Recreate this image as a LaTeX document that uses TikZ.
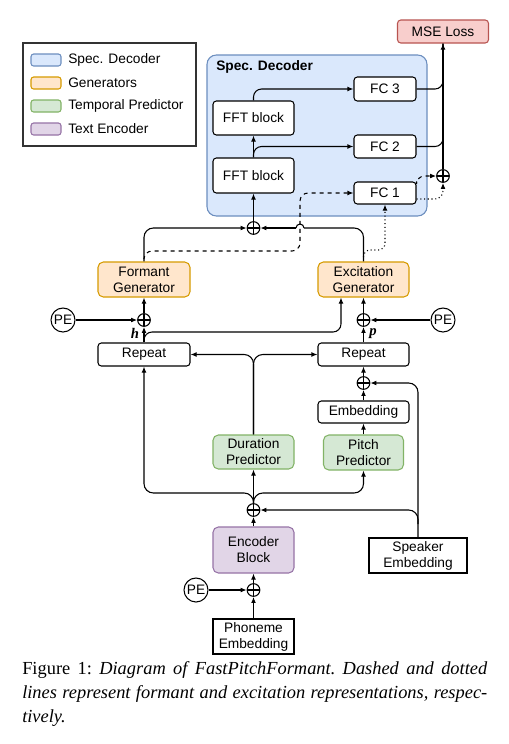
\documentclass[tikz,border=0pt]{standalone}
\usepackage{fontspec}
\setmainfont{Liberation Serif}
\setsansfont{Liberation Sans}
\usetikzlibrary{arrows.meta,calc}
\definecolor{decf}{HTML}{DAE8FC}\definecolor{decd}{HTML}{6C8EBF}
\definecolor{genf}{HTML}{FFE6CC}\definecolor{gend}{HTML}{D79B00}
\definecolor{temf}{HTML}{D5E8D4}\definecolor{temd}{HTML}{82B366}
\definecolor{encf}{HTML}{E1D5E7}\definecolor{encd}{HTML}{9673A6}
\definecolor{msef}{HTML}{F8CECC}\definecolor{msed}{HTML}{B85450}
\newcommand{\dfont}{\sffamily\fontsize{10.3}{12}\selectfont}
\tikzset{
  sz/.style n args={2}{minimum width=#1*0.75pt, minimum height=#2*0.75pt},
  box/.style={draw=black, fill=white, rounded corners=2.5pt, line width=0.8pt, inner sep=0pt, align=center, font=\dfont},
  sqbox/.style={box, rounded corners=0pt},
  gen/.style={box, fill=genf, draw=gend, rounded corners=4pt},
  tem/.style={box, fill=temf, draw=temd, rounded corners=4pt},
  enc/.style={box, fill=encf, draw=encd, rounded corners=4pt},
  deccont/.style={draw=decd, fill=decf, rounded corners=7pt, line width=0.8pt, inner sep=0pt},
  swatch/.style={rounded corners=2pt, line width=0.8pt, inner sep=0pt, sz={30}{12}},
  sumnode/.style={circle, draw=black, line width=0.8pt, fill=white, minimum size=9.5pt, inner sep=0pt,
    path picture={\draw[line width=0.8pt] (path picture bounding box.north) -- (path picture bounding box.south)
      (path picture bounding box.west) -- (path picture bounding box.east);}},
  pe/.style={circle, draw=black, line width=0.8pt, fill=white, minimum size=18pt, inner sep=0pt, font=\dfont},
  conn/.style={line width=0.8pt},
  arr/.style={conn, -{Latex[length=4.5pt,width=3.6pt]}},
  lbl/.style={inner sep=0pt, font=\fontsize{11}{12}\selectfont\bfseries\itshape},
  legtext/.style={anchor=west, inner sep=0pt, font=\dfont},
}
\begin{document}
\begin{tikzpicture}[x=0.75pt,y=-0.75pt]
\fill[white] (0,0) rectangle (508,744);
\useasboundingbox (0,0) rectangle (508,744);

% legend
\node[draw=black!80, line width=0.8pt, sz={173}{103}, inner sep=0pt] (leg) at (109.5,94.5) {};
\node[swatch, fill=decf, draw=decd] (s1) at (46,60) {};
\node[swatch, fill=genf, draw=gend] (s2) at (46,83) {};
\node[swatch, fill=temf, draw=temd] (s3) at (46,106) {};
\node[swatch, fill=encf, draw=encd] (s4) at (46,129) {};
\node[legtext] (t1) at (68,60) {Spec. Decoder};
\node[legtext] (t2) at (68,83) {Generators};
\node[legtext] (t3) at (68,106) {Temporal Predictor};
\node[legtext] (t4) at (68,129) {Text Encoder};

% decoder
\node[deccont, sz={220}{161}] (dec) at (317,135.5) {};
\node[anchor=west, inner sep=0pt, font=\dfont\bfseries] (dectitle) at (216,67) {Spec. Decoder};
\node[box, fill=msef, draw=msed, sz={91}{23}] (mse) at (443,31.5) {MSE Loss};
\node[box, sz={62}{24}] (fc3) at (385,89) {FC 3};
\node[box, sz={62}{23}] (fc2) at (385,146.5) {FC 2};
\node[box, sz={62}{22}] (fc1) at (385,193) {FC 1};
\node[box, sz={81}{34}] (fftT) at (253.5,118) {FFT block};
\node[box, sz={81}{35}] (fftB) at (253.5,175.5) {FFT block};
\node[sumnode] (sumD) at (253.5,228) {};
\node[sumnode] (sumO) at (443,176) {};

% generators
\node[gen, sz={92}{35}] (form) at (144,279.5) {Formant\\Generator};
\node[gen, sz={91}{35}] (exc) at (363.5,279.5) {Excitation\\Generator};
\node[pe] (peL) at (63,320) {PE};
\node[sumnode] (sumF) at (144,320) {};
\node[sumnode] (sumX) at (363.5,320) {};
\node[pe] (peR) at (443,320) {PE};
\node[box, sz={92}{23}] (repL) at (144,354.5) {Repeat};
\node[box, sz={91}{23}] (repR) at (363.5,354.5) {Repeat};
\node[sumnode] (sumM) at (363.5,383) {};
\node[box, sz={91}{22}] (emb) at (363.5,412) {Embedding};
\node[tem, sz={81}{34}] (dur) at (253.5,452) {Duration\\Predictor};
\node[tem, sz={80}{35}] (pit) at (363.5,452.5) {Pitch\\Predictor};
\node[sumnode] (sumE) at (253.5,510) {};
\node[enc, sz={81}{46}] (encb) at (253.5,550) {Encoder\\Block};
\node[sqbox, sz={98}{35}] (spk) at (418,555.5) {Speaker\\Embedding};
\node[sumnode] (sumP) at (253.5,590) {};
\node[pe] (peB) at (196,590) {PE};
\node[sqbox, sz={81}{35}] (phon) at (253.5,636.5) {Phoneme\\Embedding};

\node[lbl] (hl) at (135,333) {h};
\node[lbl] (pl) at (373,334) {p};

% coordinates
\coordinate (spkbr) at (418,524);
\coordinate (j1) at (253.5,493);
\coordinate (hbr) at (144,340);
\coordinate (hx) at (341,332);
\coordinate (hopR) at (304,228);
\coordinate (hopL) at (296,228);
\coordinate (fbr) at (144,258);
\coordinate (dv) at (300,251);
\coordinate (xbr) at (363.5,257);
\coordinate (xv) at (385,250);

% bottom
\draw[arr, line width=1.3pt] (phon.north) -- (sumP.south);
\draw[arr] (peB.east) -- (sumP.west);
\draw[arr] (sumP.north) -- (encb.south);
\draw[arr] (encb.north) -- (sumE.south);
\draw[arr, rounded corners=7pt] (spk.north) |- (sumM.east);
\draw[arr, rounded corners=7pt] (spkbr) |- (sumE.east);
\draw[arr] (sumE.north) -- (dur.south);
\draw[arr, rounded corners=7pt] (sumE.north) -- (j1) -| (repL.south);
\draw[arr, rounded corners=7pt] (sumE.north) -- (j1) -| (pit.south);
\draw[arr, rounded corners=7pt] (dur.north) |- (repL.east);
\draw[arr, rounded corners=7pt] (dur.north) |- (repR.west);
\draw[arr] (pit.north) -- (emb.south);
\draw[arr, line width=1.2pt] (emb.north) -- (sumM.south);
\draw[arr] (sumM.north) -- (repR.south);

% repeat -> generators
\draw[arr, line width=1.3pt] (repR.north) -- (sumX.south);
\draw[arr] (peR.west) -- (sumX.east);
\draw[arr] (sumX.north) -- (exc.south);
\draw[arr] (repL.north) -- (sumF.south);
\draw[arr] (peL.east) -- (sumF.west);
\draw[arr] (sumF.north) -- (form.south);
\draw[arr, rounded corners=6pt] (hbr) |- (hx) -- (hx |- exc.south);

% generators -> decoder
\draw[arr, rounded corners=7pt] (form.north) |- (sumD.west);
\draw[conn, rounded corners=7pt] (exc.north) |- (hopR);
\draw[conn] (hopR) arc[start angle=0, end angle=-180, radius=4];
\draw[arr] (hopL) -- (sumD.east);
\draw[arr, dashed, rounded corners=6pt] (fbr) |- (dv) |- (fc1.west);
\draw[arr, dotted, rounded corners=5pt] (xbr) |- (xv) -- (fc1.south);

% decoder inside
\draw[arr] (sumD.north) -- (fftB.south);
\draw[arr] (fftB.north) -- (fftT.south);
\draw[arr, rounded corners=6pt] (fftB.north) |- (fc2.west);
\draw[arr, rounded corners=6pt] (fftT.north) |- (fc3.west);
\draw[conn, rounded corners=6pt] (fc3.east) -| (mse.south);
\draw[conn, rounded corners=6pt] (fc2.east) -| (mse.south);
\draw[arr] (sumO.north) -- (mse.south);
\draw[arr, dotted, rounded corners=6pt] ([yshift=-4.5pt]fc1.east) -| (sumO.south);
\draw[arr, dashed, rounded corners=6pt] (fc1.north east) |- (sumO.west);

% caption
\node[anchor=north west, inner sep=0pt, text width=348.75pt, align=justify,
  font=\rmfamily\fontsize{13.8}{18}\selectfont] (cap) at (22,661)
  {\frenchspacing\tolerance=9999\emergencystretch=10pt Figure 1: \textit{Diagram of FastPitchFormant. Dashed and dotted\linebreak lines represent formant and excitation representations, respec-\linebreak tively.}};
\end{tikzpicture}
\end{document}
